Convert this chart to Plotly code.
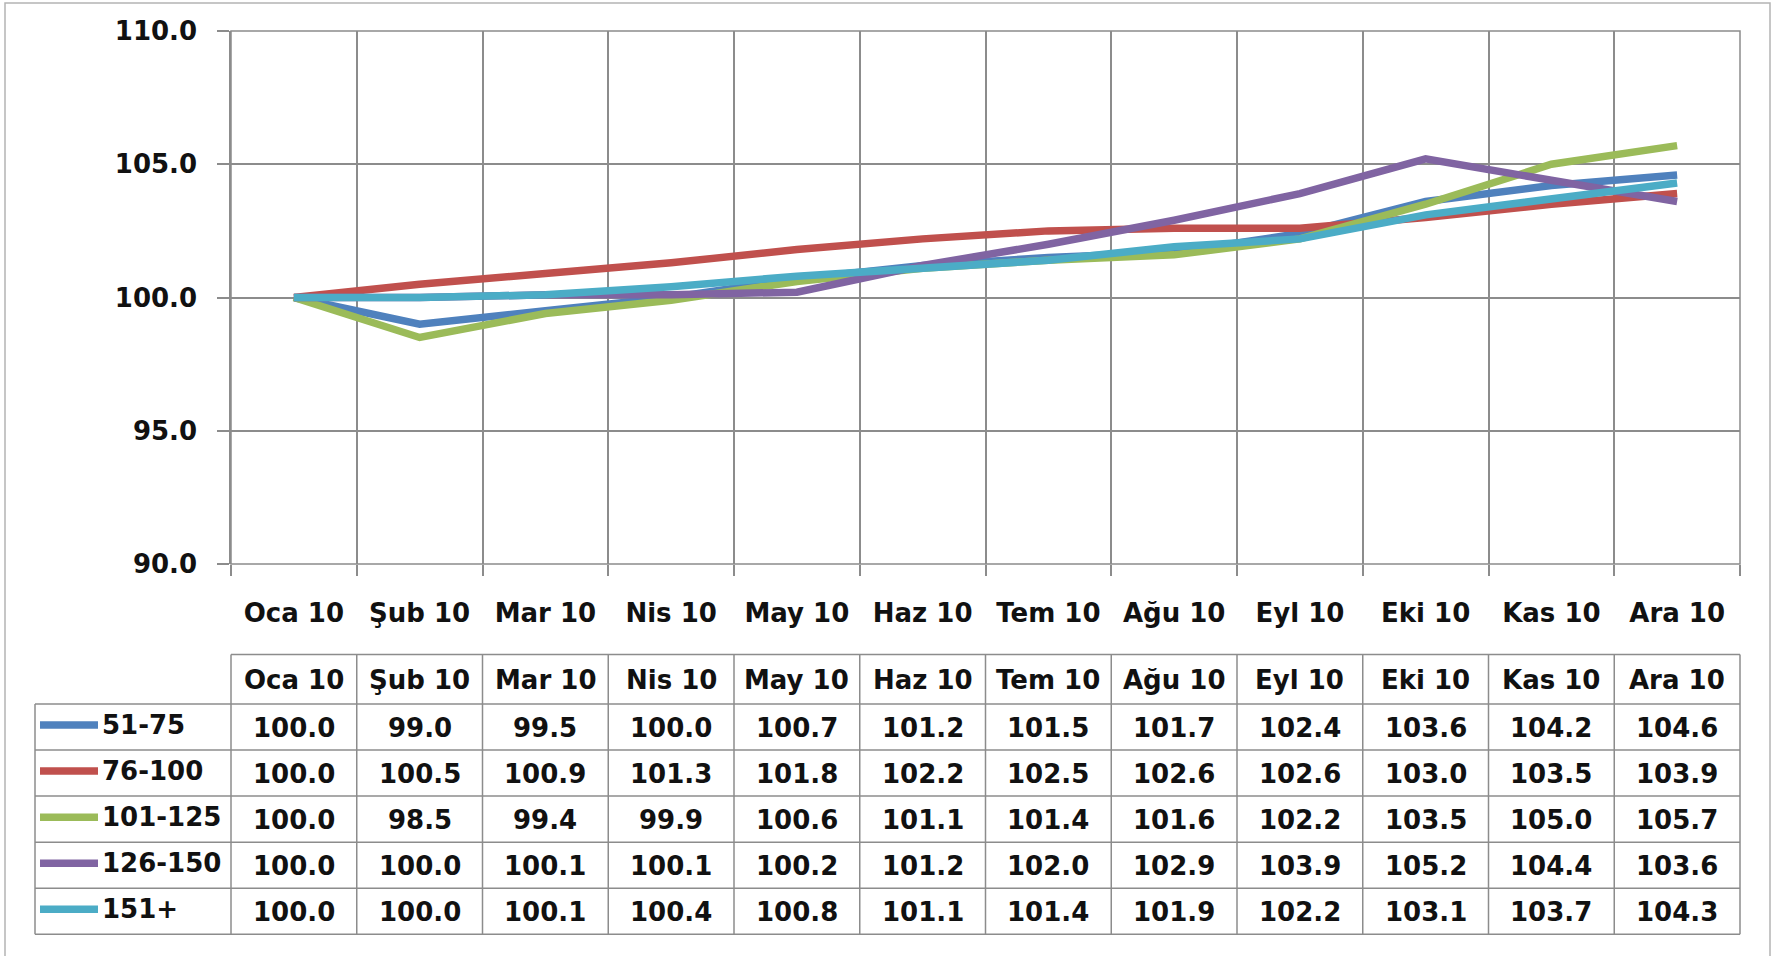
import plotly.graph_objects as go

months = ["Oca 10", "Şub 10", "Mar 10", "Nis 10", "May 10", "Haz 10",
          "Tem 10", "Ağu 10", "Eyl 10", "Eki 10", "Kas 10", "Ara 10"]
series_names = ["51-75", "76-100", "101-125", "126-150", "151+"]
s_51_75 = [100.0, 99.0, 99.5, 100.0, 100.7, 101.2, 101.5, 101.7, 102.4, 103.6, 104.2, 104.6]
s_76_100 = [100.0, 100.5, 100.9, 101.3, 101.8, 102.2, 102.5, 102.6, 102.6, 103.0, 103.5, 103.9]
s_101_125 = [100.0, 98.5, 99.4, 99.9, 100.6, 101.1, 101.4, 101.6, 102.2, 103.5, 105.0, 105.7]
s_126_150 = [100.0, 100.0, 100.1, 100.1, 100.2, 101.2, 102.0, 102.9, 103.9, 105.2, 104.4, 103.6]
s_151 = [100.0, 100.0, 100.1, 100.4, 100.8, 101.1, 101.4, 101.9, 102.2, 103.1, 103.7, 104.3]
series_values = [s_51_75, s_76_100, s_101_125, s_126_150, s_151]
colors = ["#4F81BD", "#C0504D", "#9BBB59", "#8064A2", "#4BACC6"]
y_ticks = [90, 95, 100, 105, 110]

W, H = 1779, 956
L, R, T, B = 231, 1740, 31, 564
PW, PH = R - L, B - T
GRID = "#8c8c8c"
FONT = dict(family="DejaVu Sans", size=26, color="#111111", weight="bold")

def px(p):
    return (p - L) / PW

def py(p):
    return (B - p) / PH

n = len(months)
xs = list(range(n))

fig = go.Figure()
for name, vals, col in zip(series_names, series_values, colors):
    fig.add_trace(go.Scatter(x=xs, y=vals, mode="lines", name=name,
                             line=dict(color=col, width=7.5), showlegend=False))

fig.update_layout(
    width=W, height=H,
    margin=dict(l=L, r=W - R, t=T, b=H - B, autoexpand=False),
    paper_bgcolor="white", plot_bgcolor="white",
    font=FONT,
    xaxis=dict(range=[-0.5, n - 0.5], tickvals=xs, ticktext=months,
               showgrid=False, zeroline=False, ticks="", ticklabelstandoff=31,
               tickfont=FONT, automargin=False,
               minor=dict(tickvals=[i - 0.5 for i in range(n + 1)], showgrid=True,
                          gridcolor=GRID, gridwidth=1.5, ticks="outside",
                          ticklen=11, tickcolor=GRID, tickwidth=1.5)),
    yaxis=dict(range=[90, 110], tickvals=y_ticks, tickformat=".1f",
               showgrid=True, gridcolor=GRID, gridwidth=1.5, zeroline=False,
               ticks="outside", ticklen=12, tickcolor=GRID, tickwidth=1.5,
               showline=True, linecolor=GRID, linewidth=1.5, automargin=False,
               ticklabelstandoff=15, tickfont=FONT),
)

shapes = []
# plot area border
shapes.append(dict(type="rect", xref="paper", yref="paper", x0=0, x1=1, y0=0, y1=1,
                   line=dict(color=GRID, width=1.5), layer="below"))
# outer chart border
shapes.append(dict(type="rect", xref="paper", yref="paper",
                   x0=px(5), x1=px(1770), y0=py(965), y1=py(3),
                   line=dict(color="#b4b4b4", width=1.5)))

# table geometry (pixels)
head_top, head_bot = 654.5, 704
row_h = 46.06
row_edges = [head_bot + k * row_h for k in range(len(series_names) + 1)]
leg_left = 35
tline = dict(color=GRID, width=1.5)
shapes.append(dict(type="line", xref="paper", yref="paper", x0=0, x1=1,
                   y0=py(head_top), y1=py(head_top), line=tline))
for e in row_edges:
    shapes.append(dict(type="line", xref="paper", yref="paper", x0=px(leg_left), x1=1,
                       y0=py(e), y1=py(e), line=tline))
shapes.append(dict(type="line", xref="paper", yref="paper", x0=px(leg_left), x1=px(leg_left),
                   y0=py(head_bot), y1=py(row_edges[-1]), line=tline))
for i in range(n + 1):
    shapes.append(dict(type="line", xref="paper", yref="paper", x0=i / n, x1=i / n,
                       y0=py(head_top), y1=py(row_edges[-1]), line=tline))

annotations = []
for i, m in enumerate(months):
    annotations.append(dict(x=i, xref="x", y=py((head_top + head_bot) / 2 + 1), yref="paper",
                            text=m, showarrow=False, font=FONT,
                            xanchor="center", yanchor="middle"))
for r, (name, vals, col) in enumerate(zip(series_names, series_values, colors)):
    yc = (row_edges[r] + row_edges[r + 1]) / 2
    shapes.append(dict(type="line", xref="paper", yref="paper", x0=px(40), x1=px(98),
                       y0=py(yc - 2), y1=py(yc - 2), line=dict(color=col, width=7.5)))
    annotations.append(dict(x=px(100), xref="paper", y=py(yc - 2), yref="paper",
                            text=name, showarrow=False, font=FONT,
                            xanchor="left", yanchor="middle"))
    for i, v in enumerate(vals):
        annotations.append(dict(x=i, xref="x", y=py(yc + 1), yref="paper",
                                text=f"{v:.1f}", showarrow=False, font=FONT,
                                xanchor="center", yanchor="middle"))

fig.update_layout(shapes=shapes, annotations=annotations)
fig.write_html("out.html", config={"displayModeBar": False},
               post_script="document.body.style.margin='0';document.body.style.overflow='hidden';")
